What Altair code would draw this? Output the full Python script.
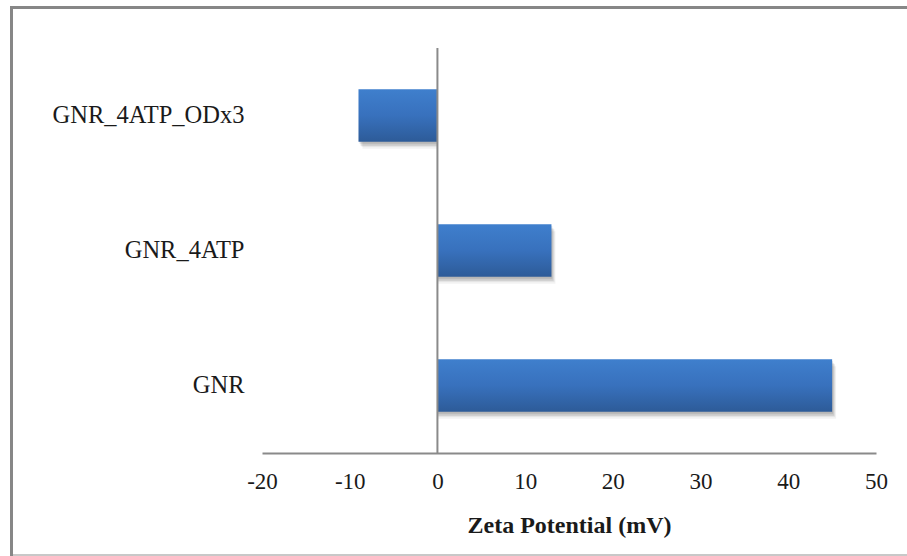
import altair as alt
import pandas as pd

samples = ["GNR_4ATP_ODx3", "GNR_4ATP", "GNR"]
zeta_mv = [-9, 13, 45]
x_ticks = [-20, -10, 0, 10, 20, 30, 40, 50]

df = pd.DataFrame({"sample": samples, "zeta": zeta_mv})
zero = pd.DataFrame({"x": [0]})

FONT = "Liberation Serif, Times New Roman, Times, serif"
W, H = 614, 405

x_enc = alt.X(
    "zeta:Q",
    scale=alt.Scale(domain=[-20, 50], nice=False, zero=False),
    axis=alt.Axis(
        values=x_ticks,
        labelExpr="'' + datum.value",
        labelFlush=False,
        title="Zeta Potential (mV)",
        titleFont=FONT,
        titleFontSize=24,
        titleFontWeight="bold",
        titleColor="#1a1a1a",
        titlePadding=20,
        labelFont=FONT,
        labelFontSize=23,
        labelColor="#1a1a1a",
        labelPadding=17,
        ticks=False,
        grid=False,
        domainColor="#8a8a8a",
        domainWidth=2,
    ),
)
y_enc = alt.Y(
    "sample:N",
    sort=samples,
    scale=alt.Scale(paddingInner=0.61, paddingOuter=0.305),
    axis=alt.Axis(
        title=None,
        labelFont=FONT,
        labelFontSize=24.5,
        labelColor="#1a1a1a",
        labelPadding=18,
        labelLimit=0,
        ticks=False,
        domain=False,
        grid=False,
    ),
)

# soft drop shadow under each bar, built from stacked translucent copies
shadows = [
    alt.Chart(df).mark_bar(color="#000000", opacity=op, xOffset=dx, yOffset=dy)
    .encode(x=x_enc, x2=alt.datum(0), y=y_enc)
    for dx, dy, op in [(4, 7, 0.05), (3, 5, 0.07), (2, 4, 0.09), (1, 2, 0.1)]
]

bars = alt.Chart(df).mark_bar(
    color=alt.Gradient(
        gradient="linear",
        stops=[
            alt.GradientStop(color="#3f7fcd", offset=0),
            alt.GradientStop(color="#3871bd", offset=0.5),
            alt.GradientStop(color="#2d5b98", offset=1),
        ],
        x1=0, x2=0, y1=0, y2=1,
    )
).encode(x=x_enc, x2=alt.datum(0), y=y_enc)

zero_line = alt.Chart(zero).mark_rule(color="#8a8a8a", strokeWidth=2).encode(
    x=alt.X("x:Q", scale=alt.Scale(domain=[-20, 50], nice=False, zero=False)),
    y=alt.value(0),
    y2=alt.value(H),
)

# outer frame of the figure: light bottom edge, darker top and left edges
frame_bottom = alt.Chart(zero).mark_rule(color="#c8c8c8", strokeWidth=2, clip=False).encode(
    x=alt.value(-252), x2=alt.value(W + 40), y=alt.value(H + 102)
)
frame_top = alt.Chart(zero).mark_rule(color="#878787", strokeWidth=3, clip=False).encode(
    x=alt.value(-252), x2=alt.value(W + 40), y=alt.value(-40.5)
)
frame_left = alt.Chart(zero).mark_rule(color="#878787", strokeWidth=3, clip=False).encode(
    x=alt.value(-250.5), y=alt.value(-42), y2=alt.value(H + 103)
)

chart = alt.layer(frame_bottom, frame_top, frame_left, *shadows, bars, zero_line).properties(
    width=W,
    height=H,
    padding={"left": 262, "top": 48, "right": 31, "bottom": 103},
    autosize=alt.AutoSizeParams(type="none"),
    background="white",
).configure_view(stroke=None)

chart.save("out.html", embed_options={"renderer": "svg", "actions": False})
